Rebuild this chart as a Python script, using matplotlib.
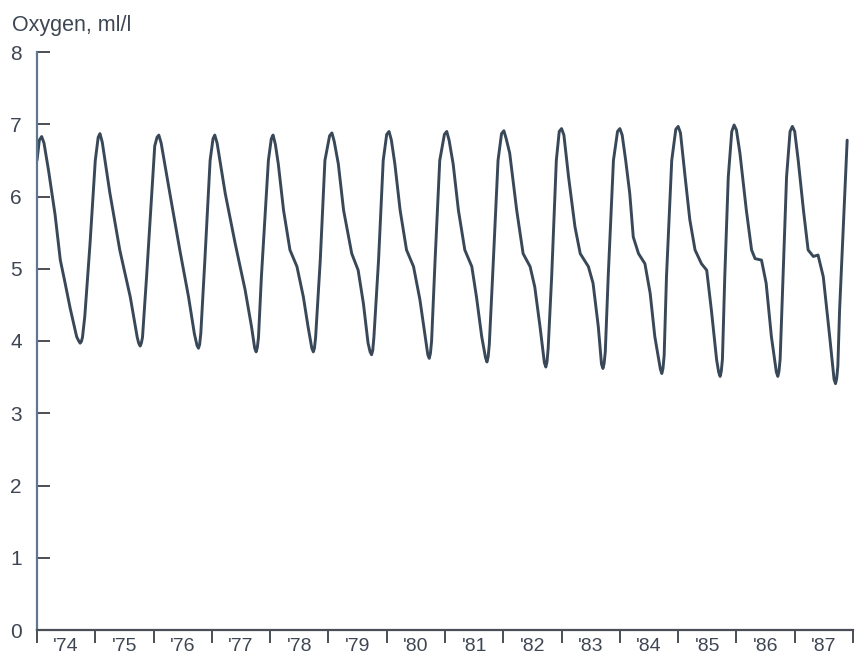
import matplotlib
matplotlib.use("Agg")
import matplotlib.pyplot as plt

plt.rcParams['font.family'] = ['Liberation Sans', 'DejaVu Sans']

# ---- data ----
year_labels = ["'74", "'75", "'76", "'77", "'78", "'79", "'80",
               "'81", "'82", "'83", "'84", "'85", "'86", "'87"]
first_year = 1974
last_year = 1988

time = [
    1974.00, 1974.04, 1974.08, 1974.12, 1974.20, 1974.31, 1974.40, 1974.47,
    1974.57, 1974.68, 1974.71, 1974.74, 1974.76, 1974.78, 1974.82, 1974.91,
    1975.00, 1975.05, 1975.08, 1975.12,
    1975.25, 1975.42, 1975.60, 1975.72, 1975.745, 1975.77, 1975.79, 1975.81,
    1975.88, 1976.02, 1976.06, 1976.09, 1976.13,
    1976.28, 1976.45, 1976.60, 1976.70, 1976.745, 1976.77, 1976.79, 1976.81,
    1976.88, 1976.97, 1977.02, 1977.05, 1977.09,
    1977.23, 1977.40, 1977.57, 1977.68, 1977.735, 1977.76, 1977.78, 1977.80,
    1977.85, 1977.97, 1978.02, 1978.05, 1978.09,
    1978.14, 1978.23, 1978.34, 1978.46, 1978.57, 1978.65, 1978.715, 1978.74,
    1978.76, 1978.78, 1978.86, 1978.94, 1979.02, 1979.06, 1979.10,
    1979.17, 1979.26, 1979.40, 1979.51, 1979.60, 1979.68, 1979.715, 1979.74,
    1979.76, 1979.78, 1979.86, 1979.94, 1980.00, 1980.04, 1980.08,
    1980.14, 1980.23, 1980.34, 1980.46, 1980.57, 1980.66, 1980.705, 1980.73,
    1980.75, 1980.77, 1980.83, 1980.91, 1980.99, 1981.03, 1981.07,
    1981.14, 1981.23, 1981.34, 1981.46, 1981.54, 1981.63, 1981.695, 1981.72,
    1981.74, 1981.76, 1981.83, 1981.91, 1981.97, 1982.01, 1982.05,
    1982.11, 1982.23, 1982.34, 1982.46, 1982.54, 1982.63, 1982.705, 1982.73,
    1982.75, 1982.77, 1982.83, 1982.91, 1982.96, 1983.00, 1983.04,
    1983.12, 1983.23, 1983.32, 1983.46, 1983.54, 1983.63, 1983.685, 1983.71,
    1983.73, 1983.75, 1983.80, 1983.89, 1983.96, 1984.00, 1984.04,
    1984.10, 1984.17, 1984.23, 1984.32, 1984.43, 1984.52, 1984.60, 1984.695,
    1984.72, 1984.74, 1984.76, 1984.80, 1984.89, 1984.96, 1985.00, 1985.04,
    1985.12, 1985.20, 1985.29, 1985.40, 1985.49, 1985.57, 1985.66, 1985.695,
    1985.72, 1985.74, 1985.76, 1985.80, 1985.86, 1985.92, 1985.96, 1986.00,
    1986.06, 1986.17, 1986.26, 1986.32, 1986.43, 1986.51, 1986.60, 1986.685,
    1986.71, 1986.73, 1986.75, 1986.80, 1986.86, 1986.92, 1986.96, 1987.00,
    1987.06, 1987.15, 1987.23, 1987.32, 1987.40, 1987.49, 1987.60, 1987.675,
    1987.70, 1987.72, 1987.74, 1987.77, 1987.86, 1987.90,
]

oxygen = [
    6.50, 6.78, 6.83, 6.74, 6.35, 5.75, 5.12, 4.85,
    4.45, 4.06, 4.01, 3.97, 3.99, 4.05, 4.34, 5.35,
    6.50, 6.82, 6.87, 6.75,
    6.05, 5.26, 4.61, 4.05, 3.97, 3.93, 3.97, 4.05,
    4.89, 6.70, 6.82, 6.85, 6.74,
    6.04, 5.26, 4.61, 4.10, 3.94, 3.90, 3.95, 4.10,
    5.12, 6.50, 6.80, 6.85, 6.74,
    6.04, 5.35, 4.71, 4.20, 3.90, 3.85, 3.91, 4.05,
    4.89, 6.50, 6.80, 6.85, 6.72,
    6.45, 5.81, 5.26, 5.03, 4.61, 4.20, 3.90, 3.85,
    3.90, 4.05, 5.12, 6.50, 6.84, 6.88, 6.76,
    6.45, 5.81, 5.21, 4.98, 4.52, 3.97, 3.85, 3.81,
    3.87, 4.05, 5.12, 6.50, 6.86, 6.90, 6.78,
    6.45, 5.81, 5.26, 5.03, 4.57, 4.06, 3.81, 3.76,
    3.83, 4.00, 5.12, 6.50, 6.86, 6.90, 6.78,
    6.45, 5.81, 5.26, 5.03, 4.61, 4.06, 3.77, 3.71,
    3.78, 3.95, 5.12, 6.50, 6.87, 6.91, 6.80,
    6.60, 5.81, 5.21, 5.03, 4.75, 4.20, 3.70, 3.64,
    3.71, 3.90, 4.89, 6.50, 6.90, 6.94, 6.85,
    6.27, 5.58, 5.21, 5.03, 4.80, 4.20, 3.68, 3.62,
    3.69, 3.85, 4.89, 6.50, 6.90, 6.94, 6.85,
    6.50, 6.04, 5.44, 5.21, 5.07, 4.66, 4.06, 3.61,
    3.55, 3.62, 3.80, 4.89, 6.50, 6.93, 6.97, 6.88,
    6.27, 5.68, 5.26, 5.07, 4.98, 4.43, 3.74, 3.57,
    3.51, 3.58, 3.75, 4.89, 6.27, 6.90, 6.99, 6.92,
    6.60, 5.81, 5.26, 5.14, 5.12, 4.80, 4.06, 3.57,
    3.51, 3.58, 3.75, 4.89, 6.27, 6.90, 6.97, 6.90,
    6.50, 5.81, 5.26, 5.17, 5.19, 4.89, 4.06, 3.47,
    3.41, 3.48, 3.65, 4.43, 6.04, 6.78,
]

y_ticks = [0, 1, 2, 3, 4, 5, 6, 7, 8]

# ---- drawing ----
text_color = '#3e4654'
line_color = '#394858'

fig = plt.figure(figsize=(8.64, 6.59), dpi=100)
ax = fig.add_axes([37 / 864, 29 / 659, 816 / 864, 578 / 659])

ax.plot(time, oxygen, color=line_color, linewidth=2.1,
        solid_joinstyle='round', solid_capstyle='round')

ax.set_xlim(first_year, last_year)
ax.set_ylim(0, 8)

for side in ('top', 'right'):
    ax.spines[side].set_visible(False)
ax.spines['left'].set_color('#5d7890')
ax.spines['left'].set_linewidth(1.6)
ax.spines['bottom'].set_color('#4a4f57')
ax.spines['bottom'].set_linewidth(1.6)

ax.set_yticks(y_ticks)
ax.set_yticklabels([str(v) for v in y_ticks])
ax.tick_params(axis='y', direction='in', length=9, width=1.4,
               color='#4a4f57', pad=11, labelsize=15, labelcolor=text_color)

years = list(range(first_year, last_year + 1))
ax.set_xticks(years)
ax.set_xticklabels([''] * len(years))
ax.set_xticks([y + 0.5 for y in range(first_year, last_year)], minor=True)
ax.set_xticklabels(year_labels, minor=True)
ax.tick_params(axis='x', which='major', direction='out', length=9,
               width=1.4, color='#4a4f57')
ax.tick_params(axis='x', which='minor', length=0, pad=6, labelsize=14,
               labelcolor=text_color)

fig.text(12 / 864, 1 - 31 / 659, 'Oxygen, ml/l', fontsize=15.5,
         color=text_color, ha='left', va='baseline')

fig.savefig('out.png', dpi=100)
